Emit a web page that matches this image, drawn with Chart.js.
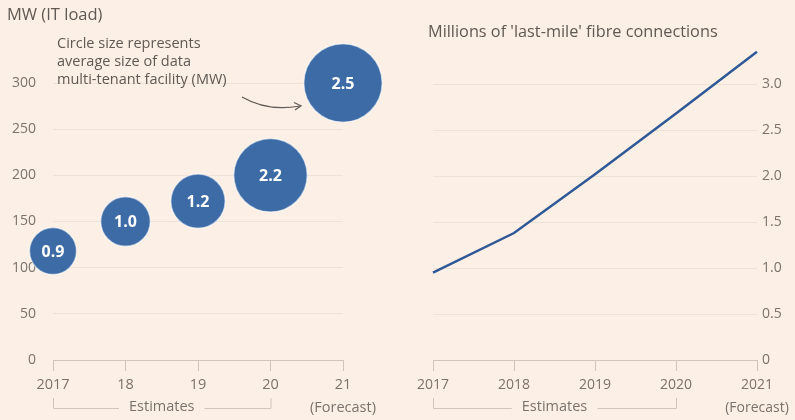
<!DOCTYPE html>
<html>
<head>
<meta charset="utf-8">
<script src="https://cdn.jsdelivr.net/npm/chart.js@4"></script>
<style>
  html, body { margin: 0; padding: 0; background: #fcf0e6; }
  #wrap { position: relative; width: 795px; height: 420px; overflow: hidden; }
  .box { position: absolute; top: 0; height: 420px; }
  #leftBox { left: 0; width: 400px; }
  #rightBox { left: 400px; width: 395px; }
</style>
</head>
<body>
<div id="wrap">
  <div class="box" id="leftBox"><canvas id="left"></canvas></div>
  <div class="box" id="rightBox"><canvas id="right"></canvas></div>
</div>
<script>
// ---- data ----
const years = [2017, 2018, 2019, 2020, 2021];
const mwTickLabels = ['2017', '18', '19', '20', ['21', '(Forecast)']];
const fibreTickLabels = ['2017', '2018', '2019', '2020', ['2021', '(Forecast)']];
const mwLoad = [118, 150, 172, 200, 300];
const avgFacilityMW = [0.9, 1.0, 1.2, 2.2, 2.5];
const mwYTicks = [0, 50, 100, 150, 200, 250, 300];
const fibreConnections = [0.95, 1.38, 2.02, 2.68, 3.35];
const fibreYTicks = [0, 0.5, 1.0, 1.5, 2.0, 2.5, 3.0];
const mwTitle = 'MW (IT load)';
const fibreTitle = "Millions of 'last-mile' fibre connections";
const noteLines = ['Circle size represents', 'average size of data', 'multi-tenant facility (MW)'];
const estimatesLabel = 'Estimates';

// ---- style ----
const FONT = '"Open Sans", Lato, sans-serif';
const TEXT = '#7a726c';
const TITLE = '#5f5853';
const GRID = '#ede2d8';
const AXIS = '#d0c5bb';
const BUBBLE = '#3d6ba6';
const LINE = '#2f5896';

Chart.defaults.font.family = FONT;
Chart.defaults.color = TEXT;

function bracketPlugin(id, lastEstimateIndex) {
  return {
    id: id,
    afterDraw(chart) {
      const ctx = chart.ctx;
      const xs = chart.scales.x;
      const x0 = xs.getPixelForValue(years[0]);
      const x1 = xs.getPixelForValue(years[lastEstimateIndex]);
      const y = 408, yTop = 398;
      ctx.save();
      ctx.font = '14.5px ' + FONT;
      ctx.fillStyle = TEXT;
      ctx.textAlign = 'center';
      ctx.textBaseline = 'middle';
      const cx = (x0 + x1) / 2;
      const tw = ctx.measureText(estimatesLabel).width;
      ctx.fillText(estimatesLabel, cx, y - 1);
      ctx.strokeStyle = AXIS;
      ctx.lineWidth = 1;
      ctx.beginPath();
      ctx.moveTo(x0 + 0.5, yTop); ctx.lineTo(x0 + 0.5, y + 0.5); ctx.lineTo(cx - tw / 2 - 10, y + 0.5);
      ctx.moveTo(cx + tw / 2 + 10, y + 0.5); ctx.lineTo(x1 + 0.5, y + 0.5); ctx.lineTo(x1 + 0.5, yTop);
      ctx.stroke();
      ctx.restore();
    }
  };
}

// ---- left: bubble chart ----
const leftPlugin = {
  id: 'leftDecor',
  afterDatasetsDraw(chart) {
    const ctx = chart.ctx;
    const meta = chart.getDatasetMeta(0);
    ctx.save();
    ctx.font = 'bold 16px ' + FONT;
    ctx.fillStyle = '#ffffff';
    ctx.textAlign = 'center';
    ctx.textBaseline = 'middle';
    meta.data.forEach((el, i) => {
      ctx.fillText(avgFacilityMW[i].toFixed(1), el.x, el.y + 1);
    });
    ctx.restore();
  },
  afterDraw(chart) {
    const ctx = chart.ctx;
    ctx.save();
    ctx.fillStyle = TITLE;
    ctx.font = '16.5px ' + FONT;
    ctx.textBaseline = 'middle';
    ctx.textAlign = 'left';
    ctx.fillText(mwTitle, 7, 15);
    ctx.font = '14.5px ' + FONT;
    noteLines.forEach((t, i) => ctx.fillText(t, 57, 44 + i * 18));
    // arrow
    ctx.strokeStyle = TITLE;
    ctx.lineWidth = 1.2;
    ctx.beginPath();
    ctx.moveTo(242, 97);
    ctx.quadraticCurveTo(268, 112, 300, 106);
    ctx.stroke();
    ctx.beginPath();
    ctx.moveTo(294, 102.5); ctx.lineTo(301, 105.8); ctx.lineTo(295, 110);
    ctx.stroke();
    ctx.restore();
  }
};

new Chart(document.getElementById('left'), {
  type: 'bubble',
  data: {
    datasets: [{
      data: years.map((x, i) => ({ x: x, y: mwLoad[i], r: 24.8 * Math.sqrt(avgFacilityMW[i]) })),
      backgroundColor: BUBBLE,
      borderColor: 'rgba(255,255,255,0.55)',
      borderWidth: 1.5,
      clip: false
    }]
  },
  options: {
    responsive: true,
    maintainAspectRatio: false,
    animation: false,
    events: [],
    layout: { padding: { top: 83, left: 0, right: 57, bottom: 0 } },
    plugins: { legend: { display: false }, tooltip: { enabled: false } },
    scales: {
      x: {
        type: 'linear',
        min: 2017, max: 2021,
        afterBuildTicks: s => { s.ticks = years.map(v => ({ value: v })); },
        afterFit: s => { s.height = 60; },
        ticks: {
          callback: (v) => mwTickLabels[years.indexOf(v)],
          font: { size: 14.5, lineHeight: 1.55 },
          color: TEXT,
          padding: 3,
          maxRotation: 0,
          autoSkip: false
        },
        grid: { drawOnChartArea: false, drawTicks: true, tickLength: 11, color: AXIS },
        border: { display: true, color: AXIS }
      },
      y: {
        min: 0, max: 300,
        afterBuildTicks: s => { s.ticks = mwYTicks.map(v => ({ value: v })); },
        afterFit: s => { s.width = 53; },
        ticks: { font: { size: 14 }, color: TEXT, padding: 17 },
        grid: { drawTicks: false, color: c => (c.tick && c.tick.value === 0 ? AXIS : GRID), lineWidth: 1 },
        border: { display: false }
      }
    }
  },
  plugins: [leftPlugin, bracketPlugin('leftBracket', 3)]
});

// ---- right: line chart ----
const rightPlugin = {
  id: 'rightDecor',
  afterDraw(chart) {
    const ctx = chart.ctx;
    ctx.save();
    ctx.fillStyle = TITLE;
    ctx.font = '16.3px ' + FONT;
    ctx.textBaseline = 'middle';
    ctx.textAlign = 'left';
    ctx.fillText(fibreTitle, 28, 32);
    ctx.restore();
  }
};

new Chart(document.getElementById('right'), {
  type: 'line',
  data: {
    labels: years,
    datasets: [{
      data: years.map((x, i) => ({ x: x, y: fibreConnections[i] })),
      borderColor: LINE,
      borderWidth: 2.5,
      pointRadius: 0,
      tension: 0,
      fill: false,
      clip: false
    }]
  },
  options: {
    responsive: true,
    maintainAspectRatio: false,
    animation: false,
    events: [],
    layout: { padding: { top: 84, left: 33, right: 0, bottom: 0 } },
    plugins: { legend: { display: false }, tooltip: { enabled: false } },
    scales: {
      x: {
        type: 'linear',
        min: 2017, max: 2021,
        afterBuildTicks: s => { s.ticks = years.map(v => ({ value: v })); },
        afterFit: s => { s.height = 60; },
        ticks: {
          callback: (v) => fibreTickLabels[years.indexOf(v)],
          font: { size: 14, lineHeight: 1.6 },
          color: TEXT,
          padding: 3,
          maxRotation: 0,
          autoSkip: false
        },
        grid: { drawOnChartArea: false, drawTicks: true, tickLength: 11, color: AXIS },
        border: { display: true, color: AXIS }
      },
      y: {
        position: 'right',
        min: 0, max: 3,
        afterBuildTicks: s => { s.ticks = fibreYTicks.map(v => ({ value: v })); },
        afterFit: s => { s.width = 38; },
        ticks: {
          font: { size: 14 }, color: TEXT, padding: 5,
          callback: v => (v === 0 ? '0' : v.toFixed(1))
        },
        grid: { drawTicks: false, color: c => (c.tick && c.tick.value === 0 ? AXIS : GRID), lineWidth: 1 },
        border: { display: false }
      }
    }
  },
  plugins: [rightPlugin, bracketPlugin('rightBracket', 3)]
});
</script>
</body>
</html>
